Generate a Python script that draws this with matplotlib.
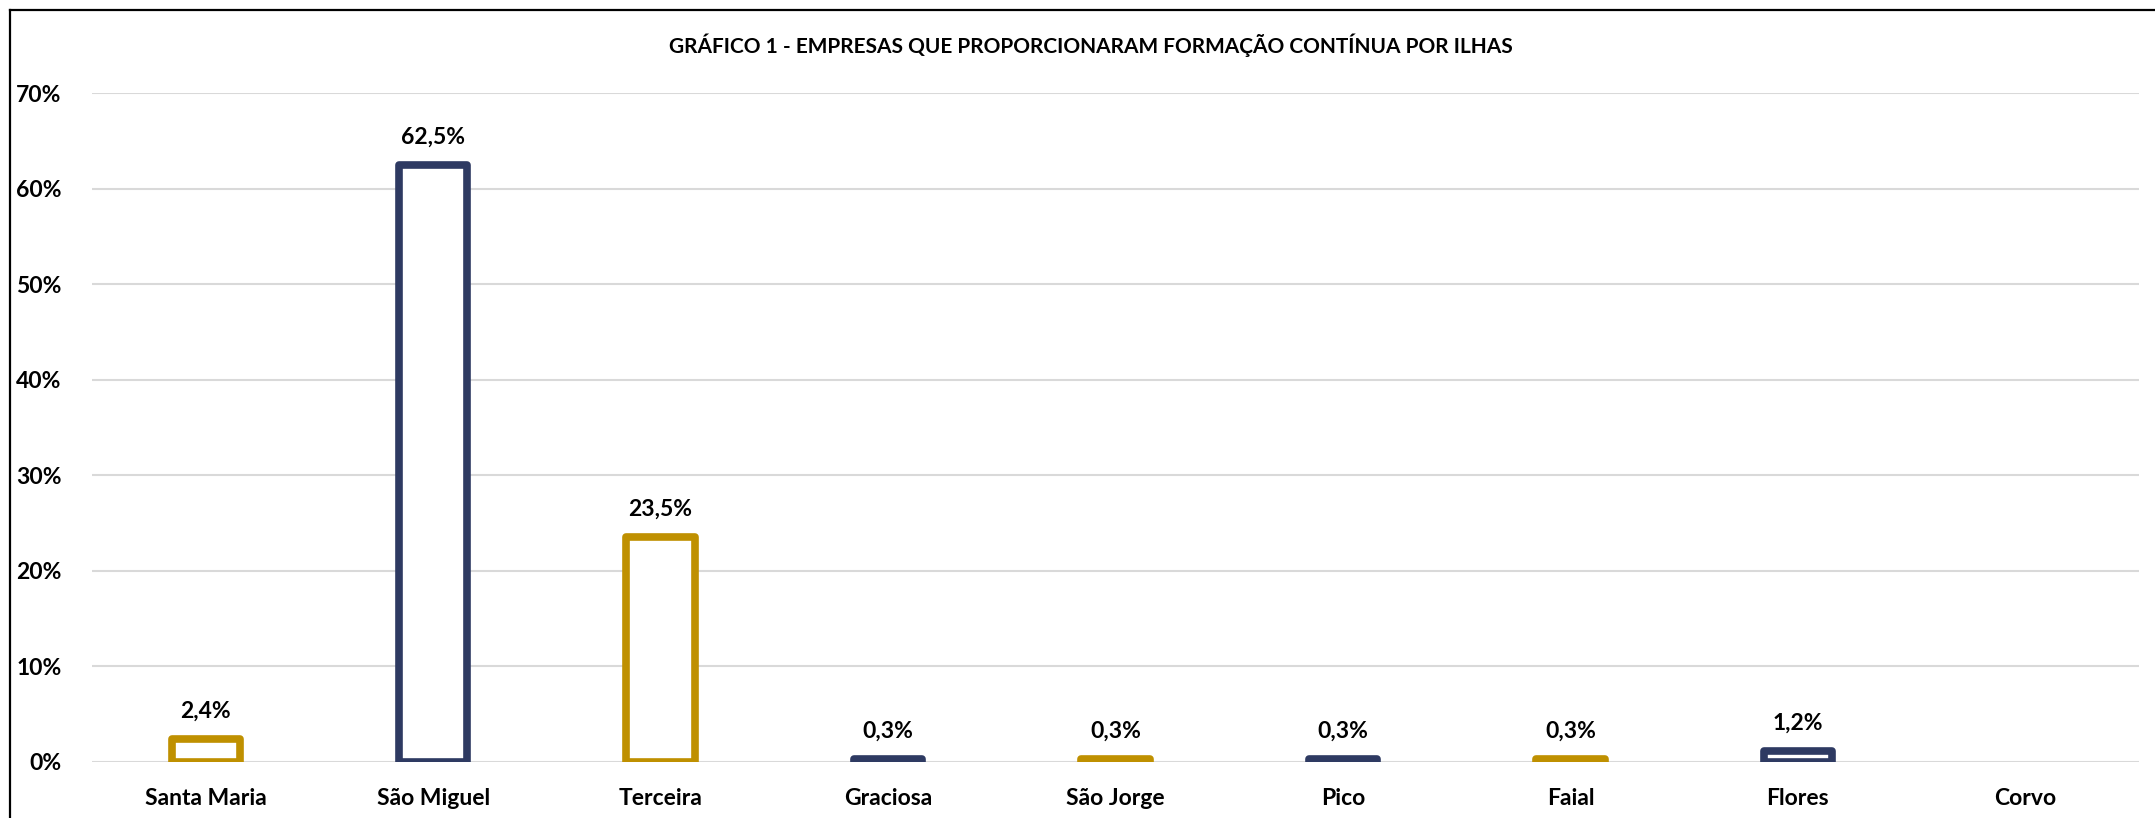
import numpy as np
import matplotlib.pyplot as plt

# data (percent)
ilhas = ['Santa Maria', 'São Miguel', 'Terceira', 'Graciosa', 'São Jorge',
         'Pico', 'Faial', 'Flores', 'Corvo']
valores = [2.4, 62.5, 23.5, 0.3, 0.3, 0.3, 0.3, 1.2, 0.0]
rotulos = ['2,4%', '62,5%', '23,5%', '0,3%', '0,3%', '0,3%', '0,3%', '1,2%', '']
y_ticks = [0, 10, 20, 30, 40, 50, 60, 70]
titulo = 'GRÁFICO 1 - EMPRESAS QUE PROPORCIONARAM FORMAÇÃO CONTÍNUA POR ILHAS'

GOLD = '#BF9000'
NAVY = '#2E3A62'

plt.rcParams['font.family'] = ['Lato', 'DejaVu Sans']
plt.rcParams['font.weight'] = 'bold'

fig = plt.figure(figsize=(21.55, 8.18), dpi=100)
ax = fig.add_axes([92 / 2155, 56 / 818, (2139 - 92) / 2155, (762 - 93) / 818])

x = np.arange(len(ilhas))
cores = [GOLD if i % 2 == 0 else NAVY for i in range(len(ilhas))]
# nothing is drawn for a zero value
cores = [c if v > 0 else 'none' for c, v in zip(cores, valores)]

bars = ax.bar(x, valores, width=0.30, color='white', edgecolor=cores,
              linewidth=5.5, zorder=3)
for b in bars:
    b.set_joinstyle('round')

for xi, v, lab in zip(x, valores, rotulos):
    if lab:
        ax.annotate(lab, (xi, v), xytext=(0, 20), textcoords='offset points',
                    ha='center', va='center', fontsize=16.5, fontweight='bold',
                    color='black')

ax.set_xlim(-0.5, len(ilhas) - 0.5)
ax.set_ylim(0, 70)
ax.set_yticks(y_ticks)
ax.set_yticklabels([f'{t}%' for t in y_ticks], fontsize=16.5, fontweight='bold')
ax.set_xticks(x)
ax.set_xticklabels(ilhas, fontsize=16.5, fontweight='bold')
ax.tick_params(axis='both', length=0)
ax.tick_params(axis='y', pad=22)
ax.tick_params(axis='x', pad=19)

ax.grid(axis='y', color='#D9D9D9', linewidth=1.5, zorder=0)
for s in ax.spines.values():
    s.set_visible(False)

fig.text(0.506, 1 - 45 / 818, titulo, ha='center', va='center',
         fontsize=15, fontweight='bold')

# frame of the chart (only left and top are visible in the crop)
fig.add_artist(plt.Line2D([10 / 2155, 10 / 2155], [0, 1 - 10 / 818],
                          transform=fig.transFigure, color='black', linewidth=1.6))
fig.add_artist(plt.Line2D([10 / 2155, 1], [1 - 10 / 818, 1 - 10 / 818],
                          transform=fig.transFigure, color='black', linewidth=1.6))

plt.savefig('out.png', dpi=100)
